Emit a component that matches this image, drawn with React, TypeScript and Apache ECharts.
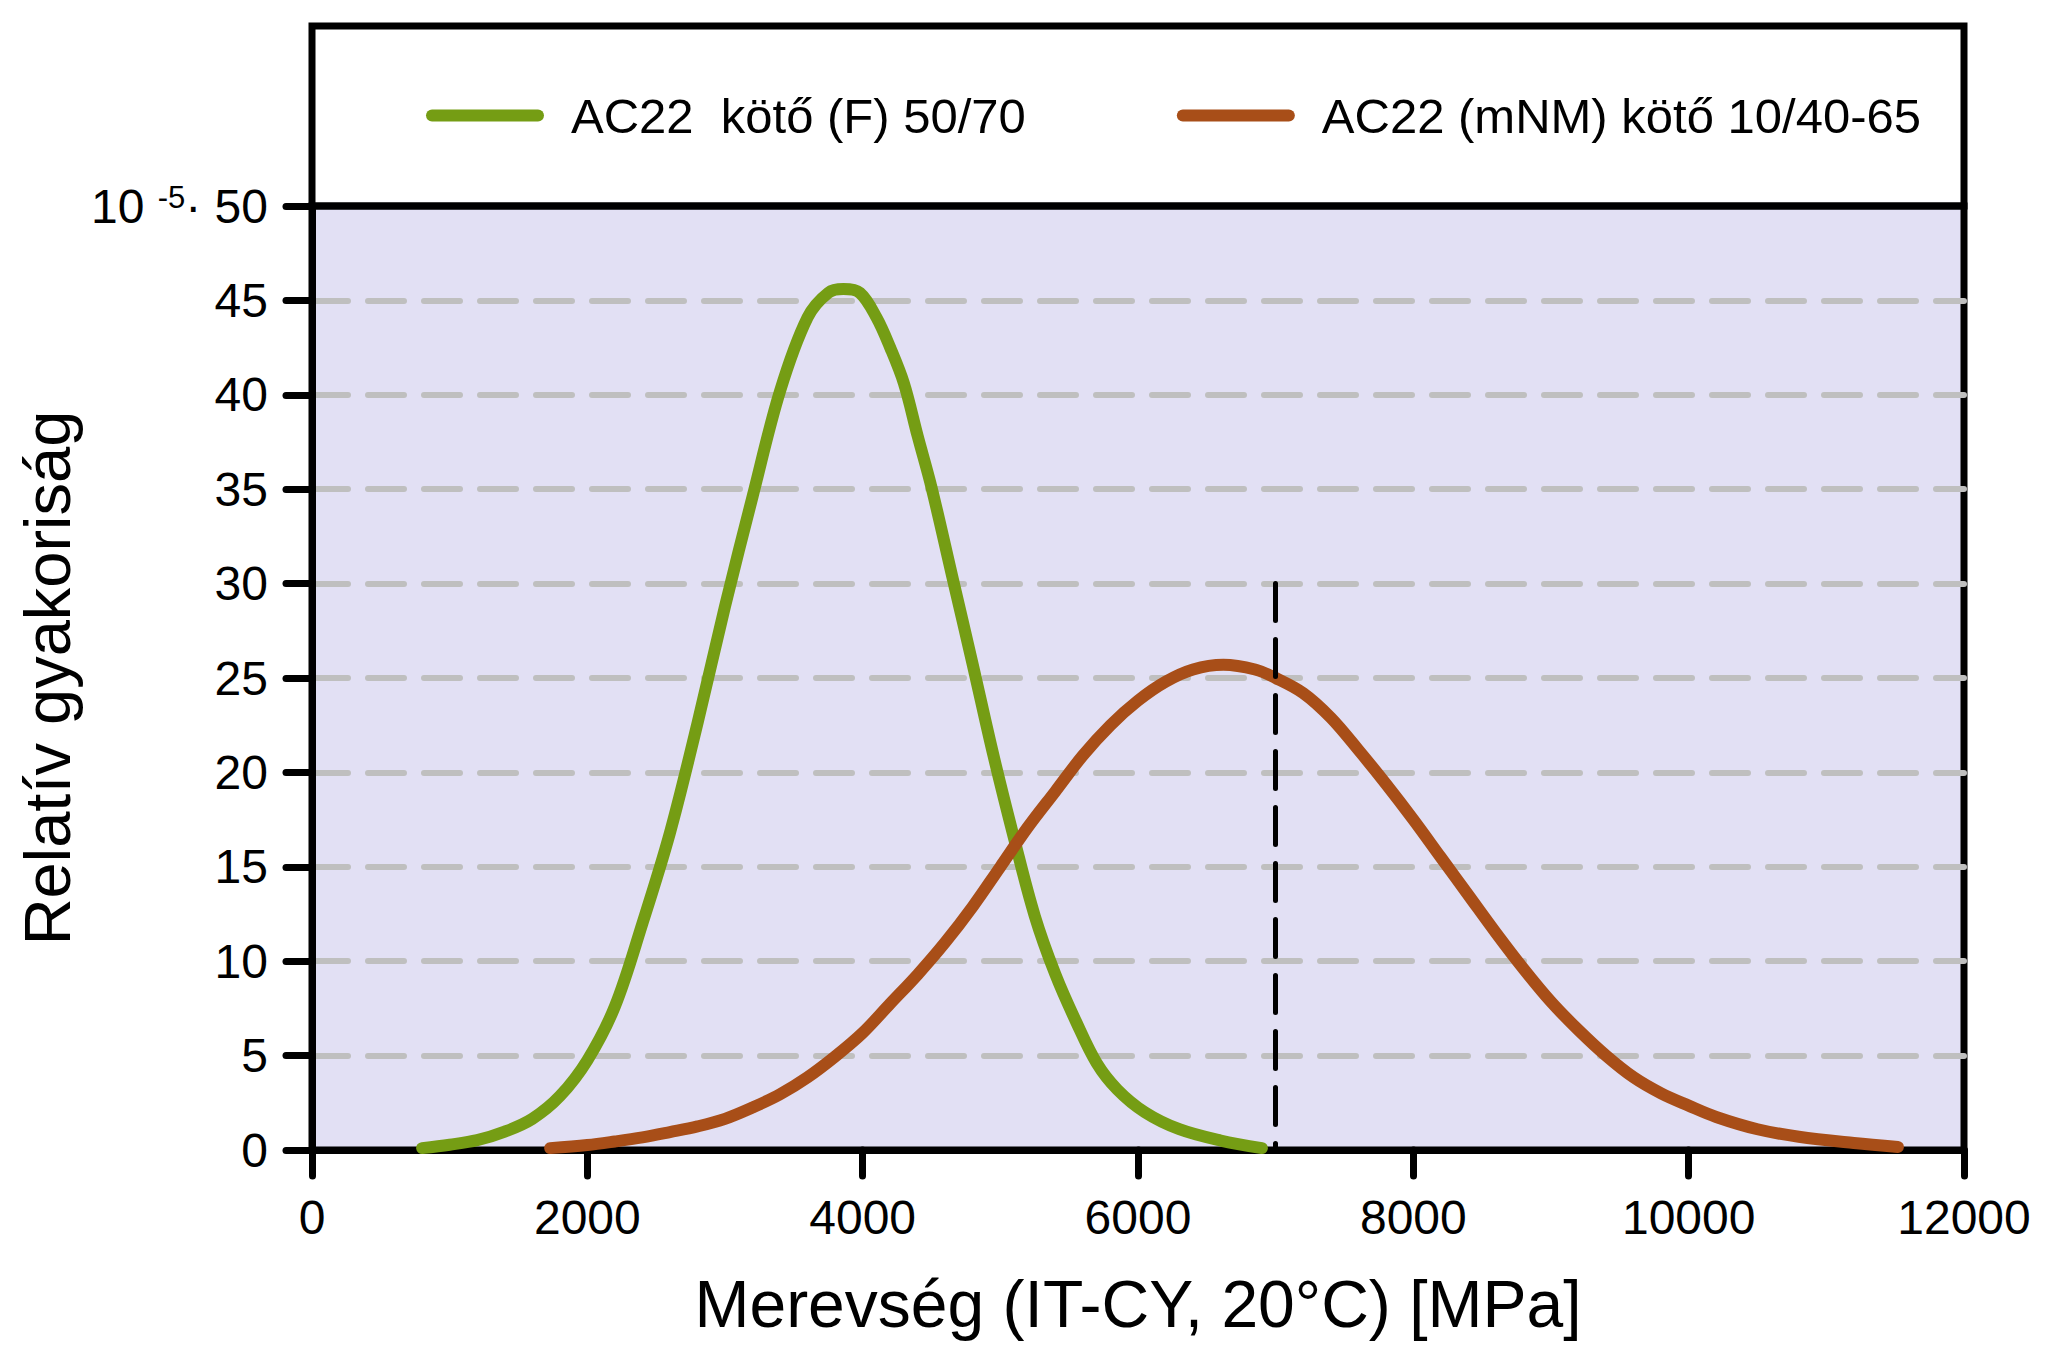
import React, { useEffect, useRef } from 'react';
import * as echarts from 'echarts';

// ---- data ----
const SERIES_NAMES = ['AC22  kötő (F) 50/70', 'AC22 (mNM) kötő 10/40-65'];
const SERIES_COLORS = ['#759D14', '#A84E18'];

const GREEN_X = [800, 1000, 1200, 1400, 1600, 1800, 2000, 2200, 2400, 2600, 2800, 3000, 3200, 3400, 3600, 3750, 3860, 3980, 4100, 4200, 4300, 4400, 4500, 4650, 4800, 4950, 5100, 5250, 5400, 5550, 5700, 5850, 6050, 6300, 6600, 6900];
const GREEN_Y = [0.1, 0.28, 0.52, 0.97, 1.65, 2.85, 4.75, 7.6, 12.0, 16.8, 22.6, 28.8, 34.6, 40.2, 44.1, 45.4, 45.6, 45.4, 44.1, 42.5, 40.6, 37.8, 35.1, 30.4, 25.7, 20.9, 16.5, 12.4, 9.3, 6.8, 4.6, 3.2, 2.0, 1.1, 0.5, 0.1];

const BROWN_X = [1730, 2000, 2200, 2400, 2600, 2800, 3000, 3200, 3400, 3600, 3800, 4000, 4200, 4400, 4600, 4800, 5000, 5200, 5400, 5600, 5800, 6000, 6200, 6400, 6620, 6850, 7000, 7200, 7400, 7600, 7800, 8000, 8200, 8400, 8600, 8800, 9000, 9200, 9400, 9600, 9800, 10000, 10200, 10500, 10800, 11200, 11520];
const BROWN_Y = [0.1, 0.26, 0.45, 0.67, 0.95, 1.25, 1.65, 2.25, 2.95, 3.85, 4.95, 6.2, 7.75, 9.3, 11.0, 12.9, 15.0, 17.1, 19.0, 20.9, 22.5, 23.8, 24.8, 25.45, 25.7, 25.45, 25.0, 24.2, 22.9, 21.2, 19.4, 17.5, 15.5, 13.5, 11.5, 9.6, 7.85, 6.35, 5.0, 3.85, 3.0, 2.35, 1.75, 1.1, 0.7, 0.37, 0.16];

const THRESHOLD_X = 7000;
const THRESHOLD_TOP = 30;

const X_MIN = 0;
const X_MAX = 12000;
const X_STEP = 2000;
const Y_MIN = 0;
const Y_MAX = 50;
const Y_STEP = 5;
const Y_EXPONENT = '-5';

const X_TITLE = 'Merevség (IT-CY, 20°C) [MPa]';
const Y_TITLE = 'Relatív gyakoriság';

const FONT = '"Liberation Sans", Arial, Helvetica, sans-serif';

export default function App() {
  const ref = useRef<HTMLDivElement>(null);

  useEffect(() => {
    if (!ref.current) return;
    const chart = echarts.init(ref.current, undefined, { renderer: 'svg' });

    const gridLeft = 312;
    const gridRight = 92;
    const gridTop = 206;
    const gridBottom = 216;
    const W = 2056;
    const frameTop = 26;

    const option: any = {
      animation: false,
      backgroundColor: '#ffffff',
      grid: {
        left: gridLeft,
        right: gridRight,
        top: gridTop,
        bottom: gridBottom,
        show: true,
        backgroundColor: '#E2E0F4',
        borderColor: '#000',
        borderWidth: 7,
        containLabel: false,
      },
      legend: {
        left: 426,
        top: 91,
        padding: 0,
        itemWidth: 118,
        itemHeight: 12,
        itemGap: 151,
        icon: 'path://M6,0 H112 A6,6 0 0 1 112,12 H6 A6,6 0 0 1 6,0 Z',
        selectedMode: false,
        textStyle: {
          fontFamily: FONT,
          fontSize: 49,
          color: '#000',
          lineHeight: 49,
          padding: [0, 0, 0, 22],
        },
        data: SERIES_NAMES,
      },
      graphic: [
        {
          type: 'rect',
          z: 10,
          shape: { x: gridLeft, y: frameTop, width: W - gridLeft - gridRight, height: gridTop - frameTop },
          style: { fill: 'none', stroke: '#000', lineWidth: 7 },
          silent: true,
        },
      ],
      xAxis: {
        type: 'value',
        min: X_MIN,
        max: X_MAX,
        interval: X_STEP,
        name: X_TITLE,
        nameLocation: 'middle',
        nameGap: 121,
        nameTextStyle: { fontFamily: FONT, fontSize: 66, color: '#000' },
        axisLine: { show: true, onZero: false, lineStyle: { color: '#000', width: 7 } },
        axisTick: { show: true, inside: false, length: 26, lineStyle: { color: '#000', width: 7, cap: 'round' } },
        axisLabel: { fontFamily: FONT, fontSize: 48, color: '#000', margin: 43, formatter: (v: number) => `${v}` },
        splitLine: { show: false },
      },
      yAxis: {
        type: 'value',
        min: Y_MIN,
        max: Y_MAX,
        interval: Y_STEP,
        name: Y_TITLE,
        nameLocation: 'middle',
        nameGap: 222,
        nameRotate: 90,
        nameTextStyle: { fontFamily: FONT, fontSize: 65, color: '#000' },
        axisLine: { show: true, lineStyle: { color: '#000', width: 7 } },
        axisTick: { show: true, inside: false, length: 26, lineStyle: { color: '#000', width: 7, cap: 'round' } },
        axisLabel: {
          fontFamily: FONT,
          fontSize: 48,
          color: '#000',
          margin: 44,
          formatter: (v: number) => (v === Y_MAX ? `{a|10 }{b|${Y_EXPONENT}}{a|· ${v}}` : `${v}`),
          rich: {
            a: { fontFamily: FONT, fontSize: 48, color: '#000', lineHeight: 48 },
            b: { fontFamily: FONT, fontSize: 31, color: '#000', lineHeight: 20, verticalAlign: 'top' },
          },
        },
        splitLine: {
          show: true,
          showMinLine: false,
          showMaxLine: false,
          lineStyle: { color: '#BFBFBF', width: 6, type: [36, 20], cap: 'round' },
        },
      },
      series: [
        {
          type: 'line',
          name: SERIES_NAMES[0],
          data: GREEN_X.map((x, i) => [x, GREEN_Y[i]]),
          symbol: 'none',
          showSymbol: false,
          smooth: 0.35,
          z: 3,
          itemStyle: { color: SERIES_COLORS[0] },
          lineStyle: { color: SERIES_COLORS[0], width: 12, cap: 'round', join: 'round' },
        },
        {
          type: 'line',
          name: SERIES_NAMES[1],
          data: BROWN_X.map((x, i) => [x, BROWN_Y[i]]),
          symbol: 'none',
          showSymbol: false,
          smooth: 0.35,
          z: 3,
          itemStyle: { color: SERIES_COLORS[1] },
          lineStyle: { color: SERIES_COLORS[1], width: 12, cap: 'round', join: 'round' },
          markLine: {
            silent: true,
            symbol: ['none', 'none'],
            label: { show: false },
            lineStyle: { color: '#000', width: 5, type: [37, 19], cap: 'round' },
            data: [[{ coord: [THRESHOLD_X, THRESHOLD_TOP] }, { coord: [THRESHOLD_X, Y_MIN] }]],
          },
        },
      ],
    };

    chart.setOption(option);
    return () => chart.dispose();
  }, []);

  return <div ref={ref} style={{ position: 'absolute', left: 0, top: 0, width: 2056, height: 1366 }} />;
}
